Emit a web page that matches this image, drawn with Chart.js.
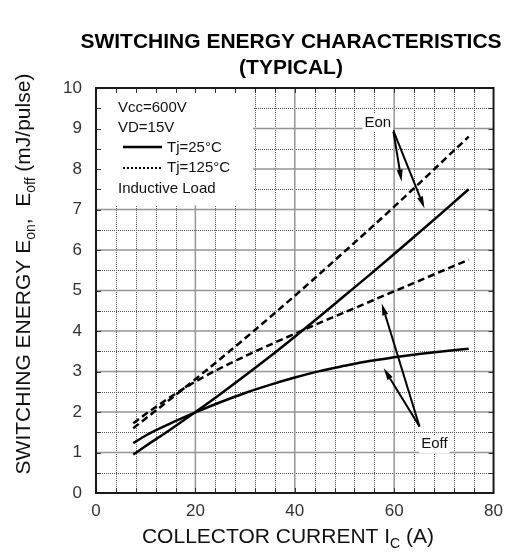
<!DOCTYPE html>
<html>
<head>
<meta charset="utf-8">
<script src="https://cdn.jsdelivr.net/npm/chart.js@4"></script>
<style>
  html, body { margin: 0; padding: 0; background: #fff; }
  canvas { display: block; }
</style>
</head>
<body>
<canvas id="myChart" width="511" height="554"></canvas>
<script>
// collector current (A) and switching energy (mJ/pulse)
const currentA = [7.5, 10, 15, 20, 25, 30, 35, 40, 45, 50, 55, 60, 65, 70, 75];
const eon25 = [0.95, 1.16, 1.57, 2.0, 2.44, 2.9, 3.37, 3.86, 4.36, 4.87, 5.38, 5.9, 6.43, 6.96, 7.5];
const eon125 = [1.6, 1.84, 2.32, 2.81, 3.31, 3.82, 4.34, 4.87, 5.41, 5.96, 6.51, 7.07, 7.64, 8.22, 8.8];
const eoff25 = [1.23, 1.42, 1.72, 1.99, 2.24, 2.47, 2.67, 2.85, 3.01, 3.14, 3.26, 3.35, 3.43, 3.5, 3.56];
const eoff125 = [1.72, 1.95, 2.37, 2.75, 3.08, 3.38, 3.66, 3.93, 4.2, 4.46, 4.72, 4.98, 5.24, 5.5, 5.76];

const xTicks = [0, 20, 40, 60, 80];
const yTicks = [0, 1, 2, 3, 4, 5, 6, 7, 8, 9, 10];

const titleLines = ['SWITCHING ENERGY CHARACTERISTICS', '(TYPICAL)'];
const legendLines = ['Vcc=600V', 'VD=15V', 'Tj=25°C', 'Tj=125°C', 'Inductive Load'];

// callouts in data units: label spot, arrow tail, arrow heads
const eonCallout = { text: 'Eon', at: [56.7, 9.14], from: [59.8, 8.96], to: [[61.5, 7.69], [66.1, 7.03]] };
const eoffCallout = { text: 'Eoff', at: [68.1, 1.21], from: [65.1, 1.64], to: [[57.5, 4.68], [57.9, 3.08]] };

const FONT = '"Liberation Sans", Arial, Helvetica, sans-serif';
Chart.defaults.font.family = FONT;

function pts(ys) {
    return currentA.map((x, i) => ({ x: x, y: ys[i] }));
}

function curve(label, ys, dashed) {
    return {
        label: label,
        data: pts(ys),
        showLine: true,
        borderColor: '#000',
        borderWidth: 2.5,
        borderDash: dashed ? [7, 4] : [],
        pointRadius: 0,
        fill: false,
        cubicInterpolationMode: 'monotone',
    };
}

// draws text with subscript runs, centred on x
function drawRuns(ctx, runs, x, y, size) {
    const widths = runs.map(r => {
        ctx.font = (r.sub ? Math.round(size * 0.68) : size) + 'px ' + FONT;
        return ctx.measureText(r.t).width;
    });
    let cx = x - widths.reduce((a, b) => a + b, 0) / 2;
    ctx.textAlign = 'left';
    ctx.textBaseline = 'alphabetic';
    runs.forEach((r, i) => {
        ctx.font = (r.sub ? Math.round(size * 0.68) : size) + 'px ' + FONT;
        ctx.fillText(r.t, cx, r.sub ? y + size * 0.22 : y);
        cx += widths[i];
    });
}

function arrow(ctx, x0, y0, x1, y1) {
    const ang = Math.atan2(y1 - y0, x1 - x0);
    const len = 12, half = 3;
    const bx = x1 - len * Math.cos(ang), by = y1 - len * Math.sin(ang);
    ctx.beginPath();
    ctx.moveTo(x0, y0);
    ctx.lineTo(bx, by);
    ctx.stroke();
    ctx.beginPath();
    ctx.moveTo(x1, y1);
    ctx.lineTo(bx + half * Math.sin(ang), by - half * Math.cos(ang));
    ctx.lineTo(bx - half * Math.sin(ang), by + half * Math.cos(ang));
    ctx.closePath();
    ctx.fill();
}

const gridPlugin = {
    id: 'gridPlugin',
    beforeDatasetsDraw(chart) {
        const { ctx, chartArea: a, scales: { x, y } } = chart;
        ctx.save();
        // minor lines, dotted
        ctx.strokeStyle = '#555';
        ctx.lineWidth = 1;
        ctx.setLineDash([1, 1]);
        for (let v = 4; v < 80; v += 4) {
            if (v % 20 === 0) continue;
            const px = Math.round(x.getPixelForValue(v)) + 0.5;
            ctx.beginPath(); ctx.moveTo(px, a.top); ctx.lineTo(px, a.bottom); ctx.stroke();
        }
        for (let v = 0.5; v < 10; v += 1) {
            const py = Math.round(y.getPixelForValue(v)) + 0.5;
            ctx.beginPath(); ctx.moveTo(a.left, py); ctx.lineTo(a.right, py); ctx.stroke();
        }
        // major lines
        ctx.setLineDash([]);
        ctx.strokeStyle = '#959595';
        ctx.lineWidth = 1.5;
        xTicks.slice(1, -1).forEach(v => {
            const px = x.getPixelForValue(v);
            ctx.beginPath(); ctx.moveTo(px, a.top); ctx.lineTo(px, a.bottom); ctx.stroke();
        });
        yTicks.slice(1, -1).forEach(v => {
            const py = y.getPixelForValue(v);
            ctx.beginPath(); ctx.moveTo(a.left, py); ctx.lineTo(a.right, py); ctx.stroke();
        });

        // condition box in the upper left corner
        const bx1 = x.getPixelForValue(31.6), by1 = y.getPixelForValue(7.1);
        ctx.fillStyle = '#fff';
        ctx.fillRect(a.left, a.top, bx1 - a.left, by1 - a.top);

        // inward ticks on the frame
        ctx.strokeStyle = '#333';
        ctx.lineWidth = 1;
        for (let v = 4; v < 80; v += 4) {
            const px = Math.round(x.getPixelForValue(v)) + 0.5;
            ctx.beginPath(); ctx.moveTo(px, a.top); ctx.lineTo(px, a.top + 5); ctx.stroke();
            ctx.beginPath(); ctx.moveTo(px, a.bottom); ctx.lineTo(px, a.bottom - 5); ctx.stroke();
        }
        for (let v = 0.5; v < 10; v += 0.5) {
            const py = Math.round(y.getPixelForValue(v)) + 0.5;
            ctx.beginPath(); ctx.moveTo(a.left, py); ctx.lineTo(a.left + 5, py); ctx.stroke();
            ctx.beginPath(); ctx.moveTo(a.right, py); ctx.lineTo(a.right - 5, py); ctx.stroke();
        }

        // condition text
        ctx.fillStyle = '#111';
        ctx.font = '15px ' + FONT;
        ctx.textAlign = 'left';
        ctx.textBaseline = 'middle';
        const tx = a.left + 22;
        ctx.fillText(legendLines[0], tx, 108);
        ctx.fillText(legendLines[1], tx, 128);
        ctx.fillText(legendLines[2], tx + 49, 148);
        ctx.fillText(legendLines[3], tx + 49, 168);
        ctx.fillText(legendLines[4], tx, 189);
        ctx.strokeStyle = '#000';
        ctx.lineWidth = 2.5;
        ctx.beginPath(); ctx.moveTo(tx + 5, 147); ctx.lineTo(tx + 44, 147); ctx.stroke();
        ctx.lineWidth = 2;
        ctx.setLineDash([2, 2]);
        ctx.beginPath(); ctx.moveTo(tx + 5, 168); ctx.lineTo(tx + 44, 168); ctx.stroke();
        ctx.restore();
    },
    afterDatasetsDraw(chart) {
        const { ctx, chartArea: a, scales: { x, y } } = chart;
        ctx.save();
        ctx.strokeStyle = '#000';
        ctx.fillStyle = '#000';
        ctx.lineWidth = 2;
        [eonCallout, eoffCallout].forEach(c => {
            const fx = x.getPixelForValue(c.from[0]), fy = y.getPixelForValue(c.from[1]);
            c.to.forEach(t => arrow(ctx, fx, fy, x.getPixelForValue(t[0]), y.getPixelForValue(t[1])));
            ctx.font = '15px ' + FONT;
            const w = ctx.measureText(c.text).width;
            const lx = x.getPixelForValue(c.at[0]), ly = y.getPixelForValue(c.at[1]);
            ctx.fillStyle = '#fff';
            ctx.fillRect(lx - w / 2 - 2, ly - 9, w + 4, 18);
            ctx.fillStyle = '#111';
            ctx.textAlign = 'center';
            ctx.textBaseline = 'middle';
            ctx.fillText(c.text, lx, ly);
            ctx.fillStyle = '#000';
        });

        // frame
        ctx.strokeStyle = '#1a1a1a';
        ctx.lineWidth = 2;
        ctx.strokeRect(a.left, a.top, a.right - a.left, a.bottom - a.top);
        ctx.restore();
    },
    afterDraw(chart) {
        const { ctx } = chart;
        ctx.save();
        ctx.fillStyle = '#000';
        ctx.font = 'bold 21px ' + FONT;
        ctx.textAlign = 'center';
        ctx.textBaseline = 'middle';
        ctx.fillText(titleLines[0], 291, 42);
        ctx.fillText(titleLines[1], 291, 68);

        ctx.fillStyle = '#111';
        drawRuns(ctx, [{ t: 'COLLECTOR CURRENT I' }, { t: 'C', sub: true }, { t: ' (A)' }], 288, 543, 21);

        ctx.translate(30, 274);
        ctx.rotate(-Math.PI / 2);
        drawRuns(ctx, [
            { t: 'SWITCHING ENERGY E' }, { t: 'on', sub: true }, { t: ',  E' },
            { t: 'off', sub: true }, { t: ' (mJ/pulse)' }
        ], 0, 0, 21);
        ctx.restore();
    }
};

const config = {
    type: 'scatter',
    data: {
        datasets: [
            curve('Eon Tj=25°C', eon25, false),
            curve('Eon Tj=125°C', eon125, true),
            curve('Eoff Tj=25°C', eoff25, false),
            curve('Eoff Tj=125°C', eoff125, true),
        ]
    },
    options: {
        responsive: false,
        animation: false,
        devicePixelRatio: 1,
        layout: { padding: { top: 88, right: 9, left: 0, bottom: 0 } },
        plugins: {
            legend: { display: false },
            title: { display: false },
            tooltip: { enabled: false },
        },
        scales: {
            x: {
                type: 'linear',
                min: 0,
                max: 80,
                afterBuildTicks: s => { s.ticks = xTicks.map(v => ({ value: v })); },
                afterFit: s => { s.height = 61; },
                ticks: { color: '#333', font: { size: 17 }, padding: 8, maxRotation: 0 },
                grid: { display: false, drawTicks: false },
                border: { display: false },
            },
            y: {
                type: 'linear',
                min: 0,
                max: 10,
                afterBuildTicks: s => { s.ticks = yTicks.map(v => ({ value: v })); },
                afterFit: s => { s.width = 96; },
                ticks: { color: '#333', font: { size: 17 }, padding: 14 },
                grid: { display: false, drawTicks: false },
                border: { display: false },
            }
        }
    },
    plugins: [gridPlugin]
};

new Chart(document.getElementById('myChart'), config);
</script>
</body>
</html>
